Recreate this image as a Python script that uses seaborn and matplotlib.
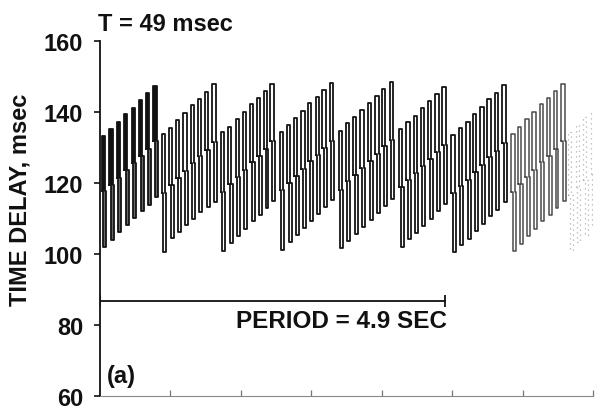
import numpy as np
import pandas as pd
import matplotlib
matplotlib.use("Agg")
import matplotlib.pyplot as plt
import seaborn as sns

# ---------------- data ----------------
group_sizes = [8, 8, 8, 8, 8, 7, 8, 8, 4]

tooth_time = [0.024, 0.132, 0.237, 0.340, 0.450, 0.553, 0.652, 0.756,
              0.875, 0.979, 1.078, 1.182, 1.285, 1.385, 1.489, 1.593,
              1.712, 1.820, 1.925, 2.024, 2.128, 2.231, 2.326, 2.418,
              2.553, 2.657, 2.756, 2.861, 2.955, 3.064, 3.159, 3.262,
              3.390, 3.489, 3.593, 3.698, 3.806, 3.911, 4.004, 4.113,
              4.245, 4.350, 4.454, 4.553, 4.657, 4.762, 4.861,
              4.989, 5.092, 5.201, 5.295, 5.400, 5.499, 5.603, 5.712,
              5.840, 5.933, 6.038, 6.137, 6.241, 6.345, 6.444, 6.549,
              6.645, 6.752, 6.858, 6.965]

tooth_high = [133.3, 135.2, 137.3, 139.4, 141.2, 143.3, 145.3, 147.3,
              133.8, 135.6, 137.8, 139.8, 141.9, 143.8, 145.6, 147.8,
              134.3, 135.9, 138.0, 140.1, 142.2, 144.0, 145.9, 148.0,
              134.5, 136.3, 138.3, 140.3, 142.4, 144.2, 146.2, 148.2,
              134.7, 136.8, 138.6, 140.6, 142.6, 144.5, 146.6, 148.5,
              135.1, 137.1, 139.0, 141.0, 143.0, 145.0, 147.1,
              133.5, 135.4, 137.2, 139.4, 141.5, 143.6, 145.4, 147.6,
              133.8, 135.9, 138.0, 140.0, 142.2, 144.0, 145.9, 148.0,
              134.4, 136.3, 138.5, 140.3]

tooth_mid = [117.7, 119.4, 121.4, 123.6, 125.6, 127.6, 129.6, 131.7,
             117.3, 119.4, 121.5, 123.5, 125.6, 127.5, 129.4, 131.5,
             117.5, 119.6, 121.7, 123.8, 125.9, 127.7, 129.6, 131.7,
             117.9, 120.0, 122.0, 124.0, 126.1, 127.9, 129.9, 131.9,
             118.1, 120.5, 122.3, 124.3, 126.3, 128.2, 130.3, 132.2,
             118.8, 120.8, 122.7, 124.7, 126.7, 128.7, 130.8,
             117.2, 119.1, 120.9, 123.1, 125.2, 127.3, 129.1, 131.3,
             117.5, 119.6, 121.7, 123.7, 125.9, 127.7, 129.6, 131.7,
             116.6, 119.0, 120.8, 122.6]

tooth_low = [102.1, 104.0, 106.1, 108.2, 110.1, 112.1, 113.8, 116.1,
             100.7, 104.5, 106.3, 108.2, 110.0, 111.8, 113.2, 114.7,
             100.9, 103.0, 105.1, 107.1, 109.2, 111.0, 112.9, 115.0,
             101.2, 103.3, 105.3, 107.3, 109.4, 111.2, 113.2, 115.2,
             101.7, 103.8, 105.6, 107.6, 109.6, 111.5, 113.6, 115.5,
             102.1, 104.1, 106.0, 108.0, 110.0, 112.0, 114.1,
             100.7, 102.4, 104.2, 106.4, 108.5, 110.6, 112.4, 114.6,
             100.9, 102.9, 105.0, 107.0, 109.2, 111.0, 112.9, 115.0,
             101.2, 103.5, 105.4, 107.3]

y_ticks = [60, 80, 100, 120, 140, 160]
x_ticks = [1, 2, 3, 4, 5, 6, 7]
period_sec = 4.9
period_level = 86.7
title_text = "T = 49 msec"
period_text = "PERIOD = 4.9 SEC"
panel_text = "(a)"
ylabel_text = "TIME DELAY, msec"

# ---------------- styling ----------------
sns.set_theme(style="ticks")
plt.rcParams["font.family"] = ["Liberation Sans", "DejaVu Sans"]
plt.rcParams["font.weight"] = "bold"

fig = plt.figure(figsize=(6.0, 4.1), dpi=100)
ax = fig.add_axes([100 / 600, 13 / 410, 493 / 600, 355 / 410])

# build narrow loop outlines for each tooth
w_up = 0.047      # width of upper part
j_l = 0.024       # lower loop left offset
j_r = 0.066       # lower loop right edge
group_id = np.repeat(np.arange(len(group_sizes)), group_sizes)
rows = []
for k, (t, h, m, l) in enumerate(zip(tooth_time, tooth_high, tooth_mid, tooth_low)):
    xs = [t, t, t + w_up, t + w_up, t + j_r, t + j_r, t + j_l, t + j_l, t]
    ys = [m, h, h, m, m, l, l, m, m]
    for order, (xx, yy) in enumerate(zip(xs, ys)):
        rows.append({"tooth": k, "group": group_id[k], "order": order, "x": xx, "y": yy})
df = pd.DataFrame(rows)

# first group: dark filled upper part, greyish lower part
for k in range(group_sizes[0]):
    t, h, m, l = tooth_time[k], tooth_high[k], tooth_mid[k], tooth_low[k]
    ax.fill([t, t, t + w_up, t + w_up], [m, h, h, m], color="#111111", lw=0)
    ax.fill([t + j_l, t + j_l, t + j_r, t + j_r], [l, m, m, l], color="#6a6a6a", lw=0)

main = df[df.group <= 6]
sns.lineplot(data=main, x="x", y="y", units="tooth", estimator=None, sort=False,
             color="#141414", lw=1.3, ax=ax, legend=False)
g8 = df[df.group == 7]
sns.lineplot(data=g8, x="x", y="y", units="tooth", estimator=None, sort=False,
             color="#4a4a4a", lw=1.1, ax=ax, legend=False)
g9 = df[df.group == 8]
sns.lineplot(data=g9, x="x", y="y", units="tooth", estimator=None, sort=False,
             color="#b0b0b0", lw=0.9, ls=(0, (1, 3)), ax=ax, legend=False)

# period bar
ax.plot([0, period_sec], [period_level, period_level], color="#111111", lw=1.3)
ax.plot([0, period_sec], [period_level, period_level], ls="none", marker="|",
        ms=9, mew=1.3, color="#111111")
ax.text(period_sec + 0.02, 79.3, period_text, ha="right", va="baseline",
        fontsize=17.5, fontweight="bold", color="#111111")
ax.text(0.095, 63.9, panel_text, ha="left", va="baseline",
        fontsize=17, fontweight="bold", color="#111111")

ax.set_xlim(0, 7)
ax.set_ylim(60, 160)
ax.set_yticks(y_ticks)
ax.set_yticklabels([str(v) for v in y_ticks])
ax.set_xticks(x_ticks)
ax.set_xticklabels([])
ax.set_xlabel("")
ax.set_ylabel("")

for s in ["top", "right"]:
    ax.spines[s].set_visible(False)
ax.spines["left"].set_color("#111111")
ax.spines["left"].set_linewidth(1.3)
ax.spines["bottom"].set_color("#888888")
ax.spines["bottom"].set_linewidth(0.8)
ax.tick_params(axis="y", direction="out", length=4, width=1.2, color="#111111",
               labelsize=17, pad=8, labelcolor="#111111")
ax.tick_params(axis="x", direction="in", length=4, width=0.9, color="#777777")
for lab in ax.get_yticklabels():
    lab.set_fontweight("bold")

fig.text(98 / 600, 1 - 31 / 410, title_text, ha="left", va="baseline",
         fontsize=17, fontweight="bold", color="#111111")
fig.text(20 / 600, 1 - 200 / 410, ylabel_text, rotation=90, ha="center", va="center",
         fontsize=17, fontweight="bold", color="#111111")

fig.savefig("out.png", dpi=100, facecolor="white")
